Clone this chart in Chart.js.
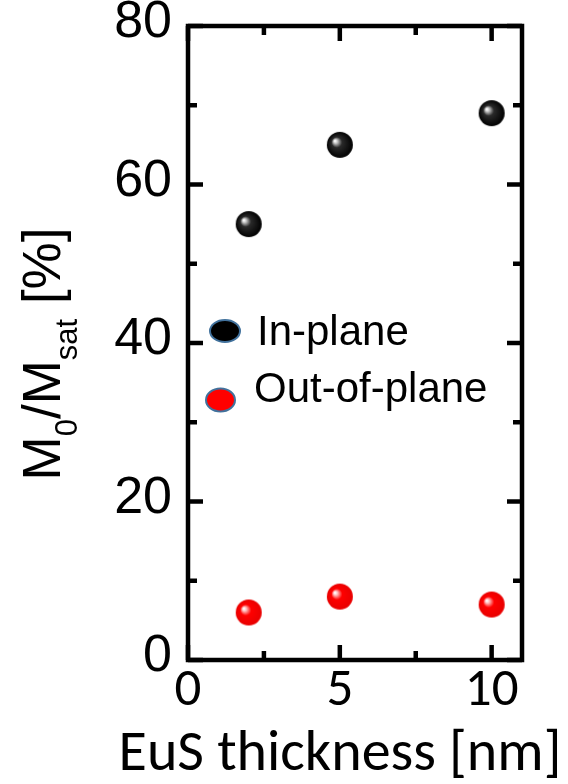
<!DOCTYPE html>
<html><head><meta charset="utf-8">
<script src="https://cdn.jsdelivr.net/npm/chart.js@4"></script>
<style>html,body{margin:0;padding:0;background:#fff;}canvas{display:block;}</style>
</head><body>
<canvas id="c" width="568" height="784"></canvas>
<script>
const thickness = [2, 5, 10];
const inPlane = [55, 65, 69];
const outOfPlane = [6, 8, 7];
const xTickValues = [0, 5, 10];
const yTickValues = [0, 20, 40, 60, 80];
const seriesNames = ['In-plane', 'Out-of-plane'];
const xTitle = 'EuS thickness [nm]';
const yTitleParts = [['M', false], ['0', true], ['/', false], ['M', false], ['sat', true], [' [%]', false]];

const ARIAL = '"Liberation Sans", Arial, Helvetica, sans-serif';
const CALIBRI = 'Carlito, Calibri, Lato, sans-serif';

function makeBall(stops, r) {
  const s = 2 * r + 2;
  const cv = document.createElement('canvas');
  cv.width = s; cv.height = s;
  const g = cv.getContext('2d');
  const c = s / 2;
  const grad = g.createRadialGradient(c - 5, c - 4, 0.5, c, c, r);
  stops.forEach(([o, col]) => grad.addColorStop(o, col));
  g.fillStyle = grad;
  g.beginPath(); g.arc(c, c, r, 0, Math.PI * 2); g.fill();
  return cv;
}
const blackBall = makeBall([[0, '#ffffff'], [0.12, '#c8c8c8'], [0.38, '#2a2a2a'], [1, '#000000']], 13);
const redBall = makeBall([[0, '#ffffff'], [0.12, '#ffc4c4'], [0.4, '#ff0000'], [1, '#e80000']], 13);

const deco = {
  id: 'deco',
  afterDraw(chart) {
    const { ctx, chartArea: a, scales: { x, y } } = chart;
    ctx.save();
    ctx.strokeStyle = '#000';
    ctx.lineWidth = 4.5;
    ctx.strokeRect(a.left, a.top, a.right - a.left, a.bottom - a.top);
    const line = (x1, y1, x2, y2) => { ctx.beginPath(); ctx.moveTo(x1, y1); ctx.lineTo(x2, y2); ctx.stroke(); };
    const mid = arr => arr.slice(1).map((v, i) => (v + arr[i]) / 2);
    const xt = x.ticks.map(t => t.value), yt = y.ticks.map(t => t.value);
    const xTick = (v, len) => { const p = x.getPixelForValue(v); line(p, a.bottom, p, a.bottom - len); line(p, a.top, p, a.top + len); };
    const yTick = (v, len) => { const p = y.getPixelForValue(v); line(a.left, p, a.left + len, p); line(a.right, p, a.right - len, p); };
    xt.forEach(v => xTick(v, 15)); mid(xt).forEach(v => xTick(v, 9));
    yt.forEach(v => yTick(v, 15)); mid(yt).forEach(v => yTick(v, 9));

    // legend
    const legendItems = [
      { name: seriesNames[0], fill: '#000000', cx: a.left + 37, cy: 331, rx: 15, ry: 11, tx: a.left + 69, ty: 345 },
      { name: seriesNames[1], fill: '#ff0000', cx: a.left + 32.5, cy: 400, rx: 14.5, ry: 11.5, tx: a.left + 66, ty: 402 }
    ];
    legendItems.forEach(it => {
      ctx.beginPath();
      ctx.ellipse(it.cx, it.cy, it.rx, it.ry, 0, 0, Math.PI * 2);
      ctx.fillStyle = it.fill; ctx.fill();
      ctx.lineWidth = 2; ctx.strokeStyle = '#41719c'; ctx.stroke();
      ctx.fillStyle = '#000';
      ctx.font = '42px ' + ARIAL;
      ctx.textAlign = 'left'; ctx.textBaseline = 'alphabetic';
      ctx.fillText(it.name, it.tx, it.ty);
    });

    // x title
    ctx.fillStyle = '#000';
    ctx.font = '58px ' + CALIBRI;
    ctx.textAlign = 'center'; ctx.textBaseline = 'alphabetic';
    ctx.fillText(xTitle, 340, 770);

    // y title (rotated, with subscripts)
    const mainFont = '53px ' + ARIAL, subFont = '31px ' + ARIAL;
    let total = 0;
    yTitleParts.forEach(([t, sub]) => { ctx.font = sub ? subFont : mainFont; total += ctx.measureText(t).width; });
    ctx.translate(60, 354);
    ctx.rotate(-Math.PI / 2);
    ctx.textAlign = 'left';
    let pos = -total / 2;
    yTitleParts.forEach(([t, sub]) => {
      ctx.font = sub ? subFont : mainFont;
      ctx.fillText(t, pos, sub ? 17 : 0);
      pos += ctx.measureText(t).width;
    });
    ctx.restore();
  }
};

new Chart(document.getElementById('c'), {
  type: 'scatter',
  data: {
    datasets: [
      { label: seriesNames[0], data: thickness.map((t, i) => ({ x: t, y: inPlane[i] })), pointStyle: blackBall, pointRadius: 13, pointHoverRadius: 13 },
      { label: seriesNames[1], data: thickness.map((t, i) => ({ x: t, y: outOfPlane[i] })), pointStyle: redBall, pointRadius: 13, pointHoverRadius: 13 }
    ]
  },
  options: {
    responsive: false,
    animation: false,
    devicePixelRatio: 1,
    layout: { padding: { left: 0, top: 26, right: 46, bottom: 0 } },
    plugins: { legend: { display: false }, tooltip: { enabled: false }, title: { display: false } },
    scales: {
      x: {
        type: 'linear', min: 0, max: 11,
        grid: { display: false, drawTicks: false },
        border: { display: false },
        ticks: { stepSize: 5, includeBounds: false, padding: 5, color: '#000', font: { family: CALIBRI, size: 53, lineHeight: 1 } },
        afterBuildTicks: s => { s.ticks = xTickValues.map(v => ({ value: v })); },
        afterFit: s => { s.height = 124; s.paddingLeft = 0; s.paddingRight = 0; }
      },
      y: {
        type: 'linear', min: 0, max: 80,
        grid: { display: false, drawTicks: false },
        border: { display: false },
        ticks: { stepSize: 20, padding: 16, labelOffset: -3, color: '#000', font: { family: ARIAL, size: 52, lineHeight: 1 } },
        afterBuildTicks: s => { s.ticks = yTickValues.map(v => ({ value: v })); },
        afterFit: s => { s.width = 188; s.paddingTop = 0; s.paddingBottom = 0; }
      }
    }
  },
  plugins: [deco]
});
</script>
</body></html>
